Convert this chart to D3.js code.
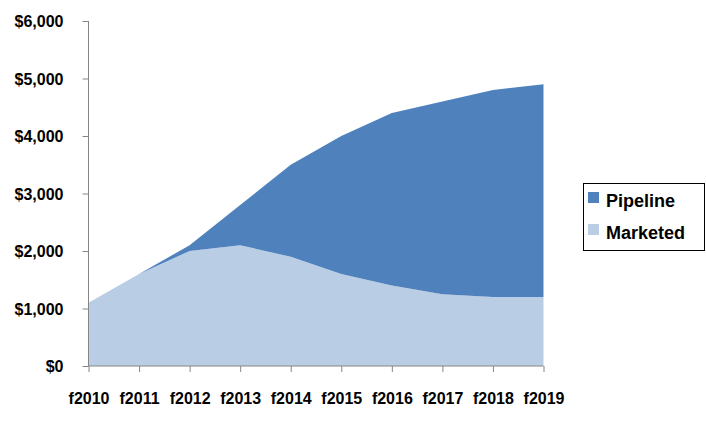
<!DOCTYPE html>
<html><head><meta charset="utf-8">
<script src="https://cdn.jsdelivr.net/npm/d3@7"></script>
<style>body{margin:0;background:#fff}svg{display:block;font-family:"Liberation Sans",Arial,sans-serif;font-weight:bold}</style>
</head><body><svg id="c" width="706" height="426"></svg>
<script>
const years = ["f2010","f2011","f2012","f2013","f2014","f2015","f2016","f2017","f2018","f2019"];
const marketed = [1100,1600,2000,2100,1900,1600,1400,1250,1200,1200];
const pipeline = [0,0,100,700,1600,2400,3000,3350,3600,3700];
const yTicks = [0,1000,2000,3000,4000,5000,6000];
const seriesNames = ["Pipeline","Marketed"];
const colors = {Pipeline:"#4F81BD", Marketed:"#B9CDE5"};

const svg = d3.select("#c");
const x = d3.scalePoint().domain(years).range([88.5, 543.5]);
const y = d3.scaleLinear().domain([0,6000]).range([366, 21]);

const rows = years.map((yr,i)=>({yr, Marketed:marketed[i], Pipeline:pipeline[i]}));
const stack = d3.stack().keys(["Marketed","Pipeline"])(rows);
const area = d3.area().x(d=>x(d.data.yr)).y0(d=>y(d[0])).y1(d=>y(d[1]));
svg.append("g").selectAll("path").data(stack).join("path")
  .attr("d", area).attr("fill", d=>colors[d.key]);

const gy = svg.append("g").attr("transform","translate(88.5,0)")
  .call(d3.axisLeft(y).tickValues(yTicks).tickSize(6).tickPadding(19).tickFormat(d=>"$"+d3.format(",")(d)));
const gx = svg.append("g").attr("transform","translate(0,366)")
  .call(d3.axisBottom(x).tickSize(6).tickPadding(21));
[gy,gx].forEach(g=>{
  g.selectAll("path,line").attr("stroke","#868686");
  g.select(".domain").attr("d", g===gy ? "M0,21V366" : "M88.5,0H543.5");
  g.selectAll("text").attr("font-size",16).attr("font-weight","bold").attr("fill","#000")
   .attr("font-family","'Liberation Sans',Arial,sans-serif");
});
gy.selectAll("text").attr("dy","0.35em");

const lg = svg.append("g");
lg.append("rect").attr("x",583.5).attr("y",183.5).attr("width",121).attr("height",67)
  .attr("fill","#fff").attr("stroke","#000");
seriesNames.forEach((n,i)=>{
  lg.append("rect").attr("x",588).attr("y",192+i*32).attr("width",11).attr("height",11).attr("fill",colors[n]);
  lg.append("text").attr("x",606).attr("y",207+i*32).attr("font-size",18).text(n);
});
</script></body></html>
